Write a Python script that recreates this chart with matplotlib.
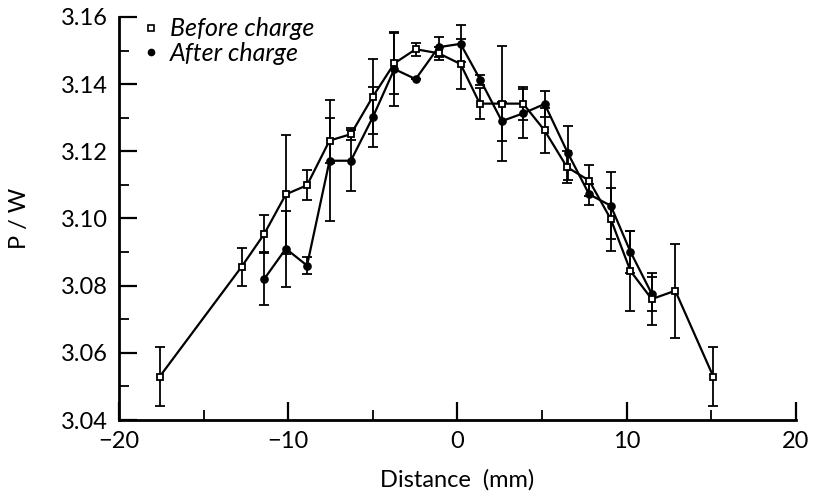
import matplotlib
matplotlib.use("Agg")
import matplotlib.pyplot as plt
from matplotlib.lines import Line2D
from matplotlib.ticker import MultipleLocator

# ---------------------------------------------------------------------------
# Data
# ---------------------------------------------------------------------------
before_x = [-17.60, -12.76, -11.42, -10.14, -8.89, -7.56, -6.30, -5.00, -3.73,
            -2.47, -1.12, 0.18, 1.32, 2.62, 3.88, 5.15, 6.47, 7.78, 9.06,
            10.22, 11.48, 12.87, 15.12]
before_y = [3.0529, 3.0856, 3.0954, 3.1072, 3.1099, 3.1232, 3.1251, 3.1363,
            3.1462, 3.1504, 3.1492, 3.1460, 3.1342, 3.1342, 3.1342, 3.1262,
            3.1153, 3.1113, 3.0998, 3.0844, 3.0760, 3.0785, 3.0529]
before_err = [0.0088, 0.0057, 0.0056, 0.0177, 0.0045, 0.0067, 0.0018, 0.0112,
              0.0090, 0.0020, 0.0020, 0.0074, 0.0047, 0.0172, 0.0050, 0.0068,
              0.0048, 0.0047, 0.0094, 0.0118, 0.0078, 0.0140, 0.0088]

after_x = [-11.42, -10.14, -8.89, -7.56, -6.30, -5.00, -3.73, -2.47, -1.12,
           0.18, 1.36, 2.62, 3.88, 5.15, 6.51, 7.78, 9.06, 10.22, 11.48]
after_y = [3.0820, 3.0910, 3.0860, 3.1172, 3.1172, 3.1302, 3.1445, 3.1415,
           3.1510, 3.1520, 3.1412, 3.1290, 3.1313, 3.1341, 3.1196, 3.1072,
           3.1038, 3.0901, 3.0776]
after_err = [0.0079, 0.0113, 0.0025, 0.0180, 0.0090, 0.0090, 0.0110, 0.0,
             0.0030, 0.0055, 0.0015, 0.0058, 0.0074, 0.0039, 0.0080, 0.0032,
             0.0100, 0.0063, 0.0050]

x_ticks = [-20, -10, 0, 10, 20]
y_ticks = [3.04, 3.06, 3.08, 3.10, 3.12, 3.14, 3.16]

plt.rcParams.update({
    "font.family": ["Lato", "DejaVu Sans"],
    "font.size": 17,
})

fig = plt.figure(figsize=(8.13, 4.95), dpi=100)
ax = fig.add_axes([0.1464, 0.1515, 0.8326, 0.8142])

ax.errorbar(before_x, before_y, yerr=before_err, color="black", lw=1.6,
            elinewidth=1.3, capsize=3.5, capthick=1.3, marker="s", ms=4.8,
            mfc="white", mec="black", mew=1.3, zorder=3)
ax.errorbar(after_x, after_y, yerr=after_err, color="black", lw=1.6,
            elinewidth=1.3, capsize=3.5, capthick=1.3, marker="o", ms=5.2,
            mfc="black", mec="black", zorder=2)

ax.set_xlim(-20, 20)
ax.set_ylim(3.04, 3.16)
ax.set_xticks(x_ticks)
ax.set_xticklabels(["\u221220", "\u221210", "0", "10", "20"])
ax.set_yticks(y_ticks)
ax.set_yticklabels([f"{v:.2f}" for v in y_ticks])
ax.xaxis.set_minor_locator(MultipleLocator(5))
ax.yaxis.set_minor_locator(MultipleLocator(0.01))
ax.tick_params(which="major", direction="in", length=13, width=1.6,
               labelsize=17, pad=8)
ax.tick_params(which="minor", direction="in", length=7, width=1.3)

for side in ("top", "right"):
    ax.spines[side].set_visible(False)
for side in ("left", "bottom"):
    ax.spines[side].set_linewidth(2.0)

ax.set_xlabel("Distance  (mm)", fontsize=17, labelpad=12)
ax.set_ylabel("P / W", fontsize=17, labelpad=22)

handles = [
    Line2D([], [], ls="none", marker="s", ms=4.5, mfc="white", mec="black",
           mew=1.2, label="Before charge"),
    Line2D([], [], ls="none", marker="o", ms=4.5, mfc="black", mec="black",
           label="After charge"),
]
leg = ax.legend(handles=handles, loc="upper left", frameon=False, fontsize=18,
                handlelength=0.5, handletextpad=0.5, borderaxespad=0.1,
                labelspacing=0.05, bbox_to_anchor=(0.02, 1.03))
for txt in leg.get_texts():
    txt.set_style("italic")

fig.savefig("out.png", dpi=100)
